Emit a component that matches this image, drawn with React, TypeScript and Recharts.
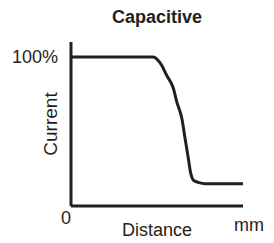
import React from 'react';
import { LineChart, Line, XAxis, YAxis } from 'recharts';

const distance = [0, 47.7, 52.7, 55.6, 59.5, 61.5, 64.4, 66.3, 68.2, 69.6, 71.1, 74, 78, 100];
const current = [100, 100, 94.4, 87.7, 79, 69.9, 59, 45.5, 32, 22, 17.4, 15.9, 15, 15];

const data = distance.map((d, i) => ({ distance: d, current: current[i] }));

const ink = '#231f20';
const font = 'Liberation Sans, Arial, Helvetica, sans-serif';

export default function App() {
  return (
    <div style={{ position: 'absolute', left: 0, top: 0, width: 274, height: 243, background: '#fff' }}>
      <LineChart
        width={274}
        height={243}
        data={data}
        margin={{ top: 42, right: 31, left: 0, bottom: 0 }}
      >
        <text x={157} y={23} textAnchor="middle" fontFamily={font} fontWeight="bold" fontSize={18} fill={ink}>
          Capacitive
        </text>
        <text
          x={57}
          y={124}
          textAnchor="middle"
          fontFamily={font}
          fontSize={19}
          fill={ink}
          transform="rotate(-90 57 124)"
        >
          Current
        </text>
        <text x={157} y={236} textAnchor="middle" fontFamily={font} fontSize={18} fill={ink}>
          Distance
        </text>
        <text x={249} y={231} textAnchor="middle" fontFamily={font} fontSize={18} fill={ink}>
          mm
        </text>
        <XAxis
          dataKey="distance"
          type="number"
          domain={[0, 100]}
          ticks={[0]}
          height={37}
          tickLine={false}
          axisLine={{ stroke: ink, strokeWidth: 3 }}
          tick={({ x }: any) => (
            <text x={x - 5} y={224} textAnchor="middle" fontFamily={font} fontSize={18} fill={ink}>
              0
            </text>
          )}
        />
        <YAxis
          type="number"
          domain={[0, 110]}
          ticks={[100]}
          width={71}
          tickLine={false}
          axisLine={{ stroke: ink, strokeWidth: 3 }}
          tick={({ y }: any) => (
            <text x={58} y={y + 6} textAnchor="end" fontFamily={font} fontSize={18} fill={ink}>
              100%
            </text>
          )}
        />
        <Line
          type="monotone"
          dataKey="current"
          stroke={ink}
          strokeWidth={3}
          dot={false}
          isAnimationActive={false}
        />
      </LineChart>
    </div>
  );
}
